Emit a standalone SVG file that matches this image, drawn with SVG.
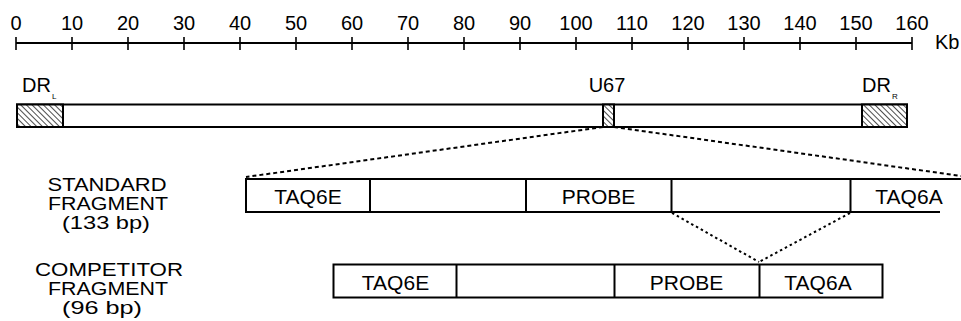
<svg xmlns="http://www.w3.org/2000/svg" width="961" height="321" viewBox="0 0 961 321">
<style>
text{font-family:"Liberation Sans",Arial,sans-serif;fill:#000}
.n{font-size:20px;text-anchor:middle}
.lbl{font-size:17.5px;text-anchor:middle}
.seg{font-size:21px;text-anchor:middle}
.box{fill:#fff;stroke:#000;stroke-width:2}
.hat{fill:url(#hatch);stroke:#000;stroke-width:2}
.tick{stroke:#000;stroke-width:1.6}
.dash{fill:none;stroke:#000;stroke-width:2;stroke-dasharray:4 3}
.dot{fill:none;stroke:#000;stroke-width:2;stroke-dasharray:2.5 3}
</style>
<defs>
<pattern id="hatch" patternUnits="userSpaceOnUse" width="4" height="4" patternTransform="rotate(-45)">
<rect width="4" height="4" fill="#fff"/>
<line x1="0" y1="0" x2="0" y2="4" stroke="#000" stroke-width="1.4"/>
</pattern>
</defs>
<g id="scale">
<line x1="16" y1="43" x2="912" y2="43" stroke="#000" stroke-width="2"/>
<line class="tick" x1="16" y1="37" x2="16" y2="50" stroke-width="2.5"/>
<line class="tick" x1="72" y1="37" x2="72" y2="50"/>
<line class="tick" x1="128" y1="37" x2="128" y2="50"/>
<line class="tick" x1="184" y1="37" x2="184" y2="50"/>
<line class="tick" x1="240" y1="37" x2="240" y2="50"/>
<line class="tick" x1="296" y1="37" x2="296" y2="50"/>
<line class="tick" x1="352" y1="37" x2="352" y2="50"/>
<line class="tick" x1="408" y1="37" x2="408" y2="50"/>
<line class="tick" x1="464" y1="37" x2="464" y2="50"/>
<line class="tick" x1="520" y1="37" x2="520" y2="50"/>
<line class="tick" x1="576" y1="37" x2="576" y2="50"/>
<line class="tick" x1="632" y1="37" x2="632" y2="50"/>
<line class="tick" x1="688" y1="37" x2="688" y2="50"/>
<line class="tick" x1="744" y1="37" x2="744" y2="50"/>
<line class="tick" x1="800" y1="37" x2="800" y2="50"/>
<line class="tick" x1="856" y1="37" x2="856" y2="50"/>
<line class="tick" x1="912" y1="37" x2="912" y2="50" stroke-width="2.5"/>
<text class="n" x="16" y="30">0</text>
<text class="n" x="72" y="30">10</text>
<text class="n" x="128" y="30">20</text>
<text class="n" x="184" y="30">30</text>
<text class="n" x="240" y="30">40</text>
<text class="n" x="296" y="30">50</text>
<text class="n" x="352" y="30">60</text>
<text class="n" x="408" y="30">70</text>
<text class="n" x="464" y="30">80</text>
<text class="n" x="520" y="30">90</text>
<text class="n" x="576" y="30">100</text>
<text class="n" x="632" y="30">110</text>
<text class="n" x="688" y="30">120</text>
<text class="n" x="744" y="30">130</text>
<text class="n" x="800" y="30">140</text>
<text class="n" x="856" y="30">150</text>
<text class="n" x="912" y="30">160</text>
<text x="935" y="49" font-size="20">Kb</text>
</g>
<g id="genome">
<rect class="box" x="17" y="104.5" width="890" height="22.5"/>
<rect class="hat" x="17" y="104.5" width="46" height="22.5"/>
<rect class="hat" x="603" y="104.5" width="11" height="22.5"/>
<rect class="hat" x="862" y="104.5" width="45" height="22.5"/>
<text x="22" y="92" font-size="20">DR<tspan font-size="8" dy="7" dx="1">L</tspan></text>
<text x="607" y="92" font-size="20" text-anchor="middle">U67</text>
<text x="862" y="92" font-size="20">DR<tspan font-size="8" dy="7" dx="1">R</tspan></text>
</g>
<g id="standard-label">
<text class="lbl" x="107" y="191" textLength="119" lengthAdjust="spacingAndGlyphs">STANDARD</text>
<text class="lbl" x="108" y="210" textLength="120" lengthAdjust="spacingAndGlyphs">FRAGMENT</text>
<text class="lbl" x="106" y="229" textLength="88" lengthAdjust="spacingAndGlyphs">(133 bp)</text>
</g>
<g id="standard-fragment">
<line x1="246" y1="179" x2="961" y2="179" stroke="#000" stroke-width="2"/>
<line x1="246" y1="212" x2="940" y2="212" stroke="#000" stroke-width="2"/>
<line x1="246" y1="178" x2="246" y2="213" stroke="#000" stroke-width="2"/>
<line x1="370" y1="179" x2="370" y2="212" stroke="#000" stroke-width="2"/>
<line x1="526" y1="179" x2="526" y2="212" stroke="#000" stroke-width="2"/>
<line x1="671.5" y1="179" x2="671.5" y2="212" stroke="#000" stroke-width="2"/>
<line x1="850.5" y1="179" x2="850.5" y2="212" stroke="#000" stroke-width="2"/>
<text class="seg" x="308" y="204">TAQ6E</text>
<text class="seg" x="598.5" y="204">PROBE</text>
<text class="seg" x="909" y="204">TAQ6A</text>
</g>
<g id="competitor-label">
<text class="lbl" x="109" y="276" textLength="148" lengthAdjust="spacingAndGlyphs">COMPETITOR</text>
<text class="lbl" x="108" y="295" textLength="120" lengthAdjust="spacingAndGlyphs">FRAGMENT</text>
<text class="lbl" x="102" y="314" textLength="80" lengthAdjust="spacingAndGlyphs">(96 bp)</text>
</g>
<g id="competitor-fragment">
<rect class="box" x="333.5" y="264.5" width="549" height="33"/>
<line x1="456.5" y1="264.5" x2="456.5" y2="297.5" stroke="#000" stroke-width="2"/>
<line x1="614.5" y1="264.5" x2="614.5" y2="297.5" stroke="#000" stroke-width="2"/>
<line x1="759.5" y1="264.5" x2="759.5" y2="297.5" stroke="#000" stroke-width="2"/>
<text class="seg" x="395.5" y="290">TAQ6E</text>
<text class="seg" x="686.5" y="290">PROBE</text>
<text class="seg" x="818" y="290">TAQ6A</text>
</g>
<g id="connectors">
<line class="dash" x1="603" y1="127" x2="246" y2="177"/>
<line class="dash" x1="614" y1="127" x2="961" y2="176"/>
<line class="dot" x1="672" y1="213" x2="759" y2="262"/>
<line class="dot" x1="850" y1="213" x2="759" y2="262"/>
</g>
</svg>
